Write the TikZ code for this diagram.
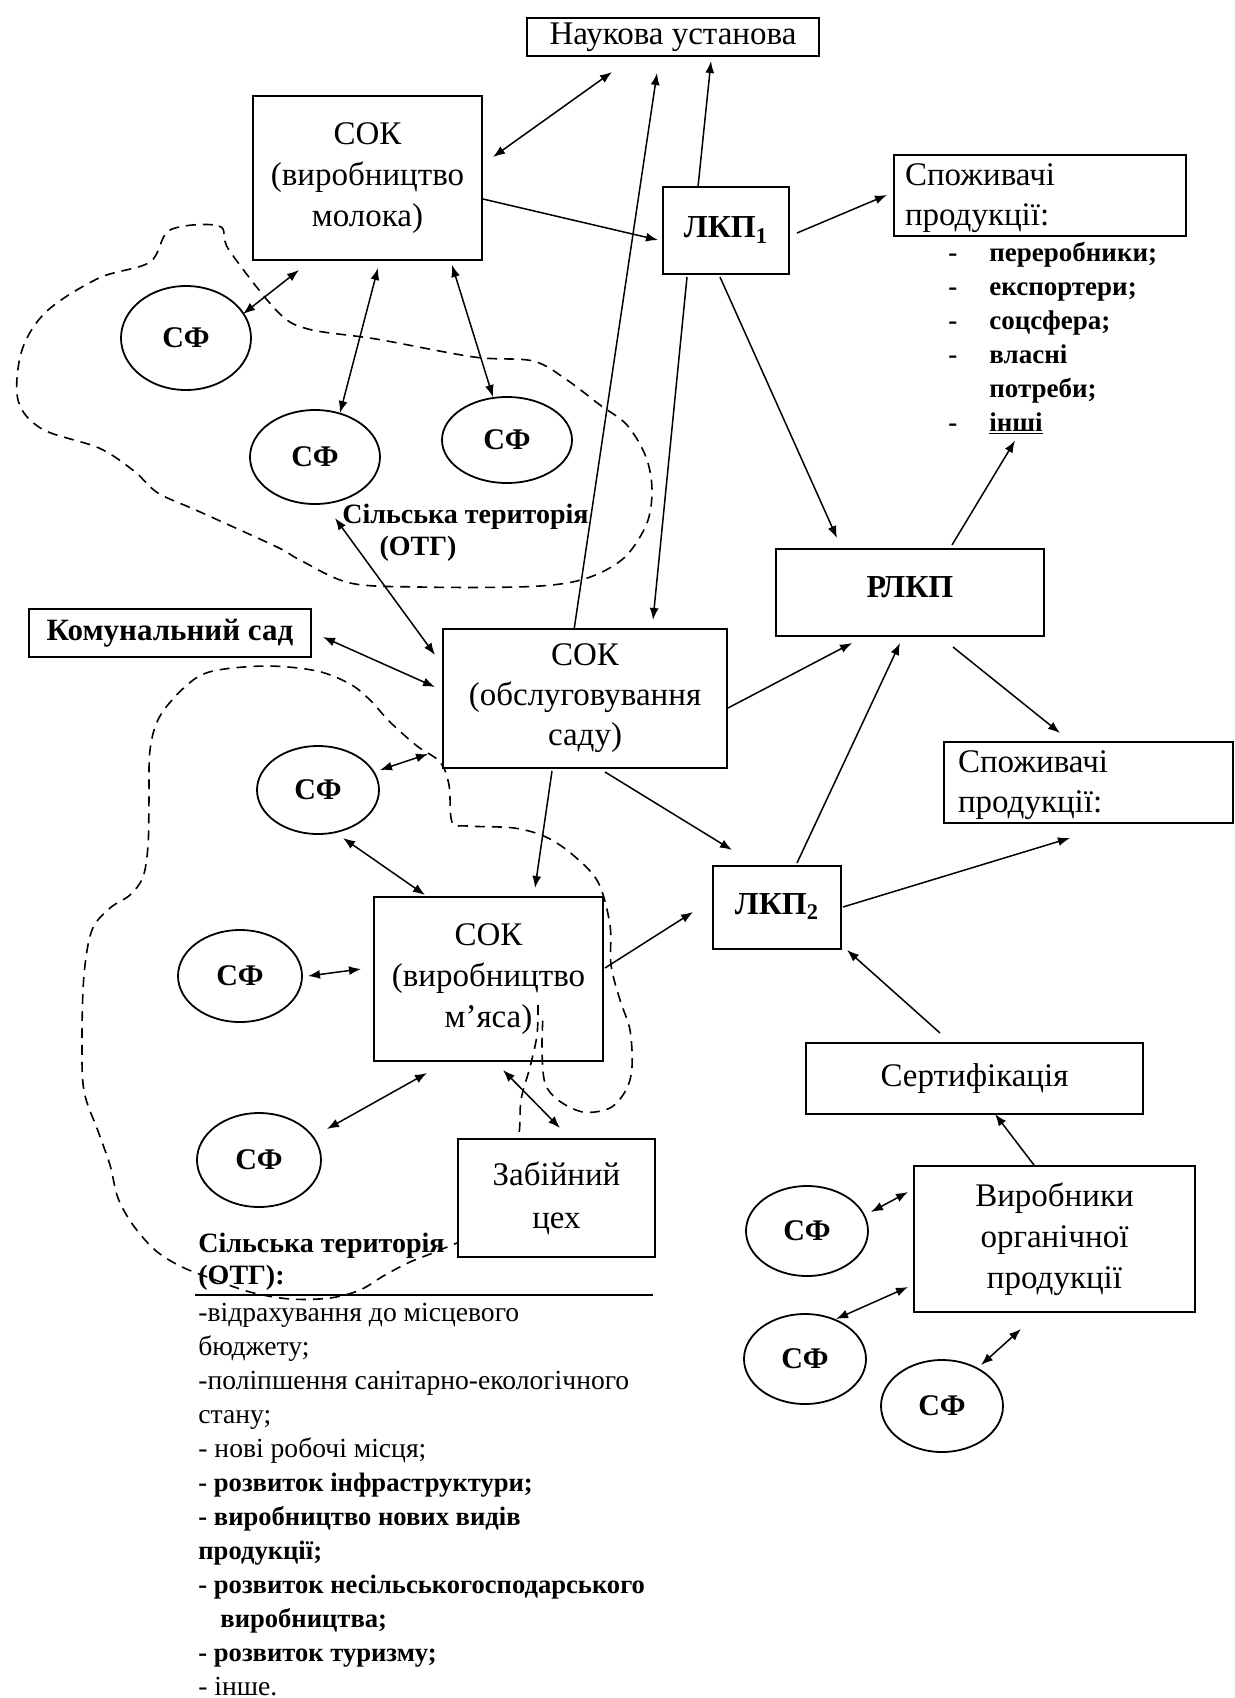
\documentclass[tikz,border=0pt]{standalone}
\usepackage{fontspec}
\setmainfont{Liberation Serif}
\usetikzlibrary{arrows.meta,shapes.geometric}
\newcommand\myfs[2]{\fontsize{#1}{#2}\selectfont}
\newcommand\bl[1]{\textbf{\myfs{13.3}{17}#1}}
\begin{document}
\begin{tikzpicture}[x=0.5pt,y=-0.5pt,
  bx/.style={draw, line width=1.1pt, inner sep=0pt, align=center, font=\myfs{16.5}{20.5}},
  bbx/.style={bx, font=\bfseries\myfs{16}{19}},
  sfell/.style={draw, ellipse, line width=0.9pt, inner sep=0pt, font=\bfseries\myfs{15}{18}},
  lbl/.style={inner sep=1pt, font=\bfseries\myfs{14}{16}},
  arr/.style={-{Latex[length=6pt,width=4.5pt]}, line width=0.75pt},
  darr/.style={{Latex[length=6pt,width=4.5pt]}-{Latex[length=6pt,width=4.5pt]}, line width=0.75pt},
  dashblob/.style={line width=0.8pt, dash pattern=on 5pt off 3.5pt}
]
\useasboundingbox (0,0) rectangle (1235,1698);
\fill[white] (0,0) rectangle (1235,1698);

% dashed territories
\draw[dashblob] plot[smooth cycle, tension=0.55] coordinates {(170,230) (219,226) (229,250) (277,311) (308,329) (376,339) (474,357) (533,361) (567,380) (600,405) (627,425) (646,457) (652,490) (647,523) (627,555) (600,573) (567,583) (517,587) (420,587) (350,583) (300,560) (277,547) (198,511) (158,493) (134,471) (99,448) (42,429) (18,400) (22,350) (47,311) (99,278) (150,262)};
\draw[dashblob] plot[smooth, tension=0.55] coordinates {(538,1005) (537,1035) (530,1067) (521,1100) (518,1140) (500,1200) (470,1235) (440,1250) (410,1262) (385,1275) (360,1290) (330,1298) (290,1299) (250,1292) (210,1278) (180,1266) (155,1250) (133,1225) (118,1198) (110,1165) (98,1131) (84,1091) (82,1040) (84,975) (92,930) (110,908) (130,895) (143,877) (148,846) (149,800) (150,750) (160,716) (187,685) (213,671) (267,666) (317,671) (350,684) (370,700) (390,722) (417,746) (440,762) (449,785) (452,822) (467,826) (514,828) (546,837) (573,855) (598,882) (610,925) (611,965) (620,1000) (630,1030) (632,1067) (626,1090) (610,1108) (583,1112) (558,1100) (545,1083) (542,1050) (543,1015)};

% boxes
\node[bx, minimum width=146pt, minimum height=19pt] (nauk) at (673,37) {Наукова установа};
\node[bx, minimum width=114.5pt, minimum height=82pt] (sokm) at (367.5,178) {СОК\\(виробництво\\молока)};
\node[bbx, minimum width=63pt, minimum height=43.5pt] (lkp1) at (726,230.5) {\raisebox{3pt}{ЛКП\textsubscript{1}}};
\node[bx, align=left, text width=135pt, inner xsep=5.5pt, minimum height=40.5pt, font=\myfs{16.5}{20}] (spog1) at (1040,195.5) {\rule{0pt}{14pt}Споживачі\\продукції:};
\node[bbx, minimum width=134pt, minimum height=43.5pt] (rlkp) at (910,592.5) {\raisebox{5pt}{РЛКП}};
\node[bx, minimum width=141pt, minimum height=24pt, font=\bfseries\myfs{15.5}{18}] (kom) at (170,633) {Комунальний сад};
\node[bx, minimum width=142pt, minimum height=69.5pt, font=\myfs{16.5}{20}] (sokg) at (585,698.5) {СОК\\(обслуговування\\саду)};
\node[bx, align=left, text width=130.5pt, inner xsep=7pt, minimum height=40.5pt, font=\myfs{16.5}{20}] (spog2) at (1088.5,782.5) {\rule{0pt}{14pt}Споживачі\\продукції:};
\node[bbx, minimum width=64pt, minimum height=41.5pt] (lkp2) at (777,907.5) {\raisebox{3.5pt}{ЛКП\textsubscript{2}}};
\node[bx, minimum width=114.5pt, minimum height=82pt] (sokmeat) at (488.5,979) {СОК\\(виробництво\\м’яса)};
\node[bx, fill=white, minimum width=98.5pt, minimum height=59pt, font=\myfs{16.5}{21.5}] (zab) at (556.5,1198) {Забійний\\цех};
\node[bx, minimum width=168.5pt, minimum height=35.5pt] (sert) at (974.5,1078.5) {Сертифікація};
\node[bx, minimum width=140.5pt, minimum height=73pt] (virob) at (1054.5,1239) {Виробники\\органічної\\продукції};

% farms
\node[sfell, minimum width=65pt, minimum height=52pt] (sf1) at (186,338) {СФ};
\node[sfell, minimum width=65pt, minimum height=47pt] (sf2) at (315,457) {СФ};
\node[sfell, minimum width=65pt, minimum height=43pt] (sf3) at (507,440) {СФ};
\node[sfell, minimum width=61pt, minimum height=44pt] (sf4) at (318,790) {СФ};
\node[sfell, minimum width=62pt, minimum height=46pt] (sf5) at (240,976) {СФ};
\node[sfell, minimum width=62pt, minimum height=47pt] (sf6) at (259,1160) {СФ};
\node[sfell, minimum width=61pt, minimum height=45pt] (sf7) at (807,1231) {СФ};
\node[sfell, minimum width=61pt, minimum height=45pt] (sf8) at (805,1359) {СФ};
\node[sfell, minimum width=61pt, minimum height=46pt] (sf9) at (942,1406) {СФ};

% labels
\node[lbl, anchor=west] (otg1) at (340,517) {Сільська територія};
\node[lbl] (otg1b) at (418,549) {(ОТГ)};
\node[anchor=base west, inner sep=0pt, font=\bfseries\myfs{13.5}{17}] (uses) at (948,261)
  {\begin{tabular}[t]{@{}l@{\hspace{16pt}}l@{}}-&переробники;\\-&експортери;\\-&соцсфера;\\-&власні\\&потреби;\\-&\underline{інші}\end{tabular}};
\node[anchor=base west, inner sep=0pt, font=\bfseries\myfs{14}{16}] (otg2) at (198,1252)
  {\begin{tabular}[t]{@{}l@{}}Сільська територія\\(ОТГ):\end{tabular}};
\draw[line width=0.9pt] (195,1295) -- (653,1295);
\node[anchor=base west, inner sep=0pt, font=\myfs{13.8}{17}] (gains) at (198,1321)
  {\begin{tabular}[t]{@{}l@{}}-відрахування до місцевого\\бюджету;\\-поліпшення санітарно-екологічного\\стану;\\- нові робочі місця;\\\bl{- розвиток інфраструктури;}\\\bl{- виробництво нових видів}\\\bl{продукції;}\\\bl{- розвиток несільськогосподарського}\\\hspace*{11pt}\bl{виробництва;}\\\bl{- розвиток туризму;}\\- інше.\end{tabular}};

% connectors
\draw[darr] ([shift={(-61,35)}]nauk.center) -- ([shift={(125.5,-21)}]sokm.center);
\draw[arr] ([shift={(-11,-68.5)}]sokg.center) -- ([shift={(-16,36)}]nauk.center);
\draw[arr] ([shift={(-28,-43.5)}]lkp1.center) -- ([shift={(38,24)}]nauk.center);
\draw[arr] ([shift={(115.5,21)}]sokm.center) -- ([shift={(-68,9.5)}]lkp1.center);
\draw[arr] ([shift={(71,2.5)}]lkp1.center) -- ([shift={(-153,-0.5)}]spog1.center);
\draw[arr] ([shift={(-39,46.5)}]lkp1.center) -- ([shift={(68,-78.5)}]sokg.center);
\draw[arr] ([shift={(-6,46.5)}]lkp1.center) -- ([shift={(-73,-54.5)}]rlkp.center);
\draw[arr] ([shift={(42,-47.5)}]rlkp.center) -- ([shift={(67,-1)}]uses.south west);
\draw[arr] ([shift={(143,9.5)}]sokg.center) -- ([shift={(-58,50.5)}]rlkp.center);
\draw[arr] ([shift={(20,-44.5)}]lkp2.center) -- ([shift={(-10,50.5)}]rlkp.center);
\draw[arr] ([shift={(43,54.5)}]rlkp.center) -- ([shift={(-28.5,-49.5)}]spog2.center);
\draw[arr] ([shift={(20,73.5)}]sokg.center) -- ([shift={(-45,-57.5)}]lkp2.center);
\draw[arr] ([shift={(66,-0.5)}]lkp2.center) -- ([shift={(-18.5,55.5)}]spog2.center);
\draw[arr] ([shift={(116.5,-11)}]sokmeat.center) -- ([shift={(-84,4.5)}]lkp2.center);
\draw[arr] ([shift={(-34.5,-45.5)}]sert.center) -- ([shift={(70,42.5)}]lkp2.center);
\draw[arr] ([shift={(-20.5,-74)}]virob.center) -- ([shift={(20.5,35.5)}]sert.center);
\draw[darr] ([shift={(64,-19)}]sf7.center) -- ([shift={(-146.5,-47)}]virob.center);
\draw[darr] ([shift={(31,-40)}]sf8.center) -- ([shift={(-146.5,48)}]virob.center);
\draw[darr] ([shift={(39,-41)}]sf9.center) -- ([shift={(-33.5,90)}]virob.center);
\draw[darr] ([shift={(153,4)}]kom.center) -- ([shift={(-150,-11.5)}]sokg.center);
\draw[darr] ([shift={(-5,1)}]otg1.west) -- ([shift={(-150,-43.5)}]sokg.center);
\draw[darr] ([shift={(62,-20)}]sf4.center) -- ([shift={(-157,55.5)}]sokg.center);
\draw[darr] ([shift={(25,48)}]sf4.center) -- ([shift={(-63.5,-84)}]sokmeat.center);
\draw[arr] ([shift={(-33,72.5)}]sokg.center) -- ([shift={(46.5,-91)}]sokmeat.center);
\draw[darr] ([shift={(68,0)}]sf5.center) -- ([shift={(-127.5,-10)}]sokmeat.center);
\draw[darr] ([shift={(68,-31)}]sf6.center) -- ([shift={(-61.5,94)}]sokmeat.center);
\draw[darr] ([shift={(14.5,91)}]sokmeat.center) -- ([shift={(3.5,-70)}]zab.center);
\draw[darr] ([shift={(-68.5,92)}]sokm.center) -- ([shift={(57,-24)}]sf1.center);
\draw[darr] ([shift={(10.5,90)}]sokm.center) -- ([shift={(25,-44)}]sf2.center);
\draw[darr] ([shift={(84.5,87)}]sokm.center) -- ([shift={(-14,-43)}]sf3.center);
\end{tikzpicture}
\end{document}
